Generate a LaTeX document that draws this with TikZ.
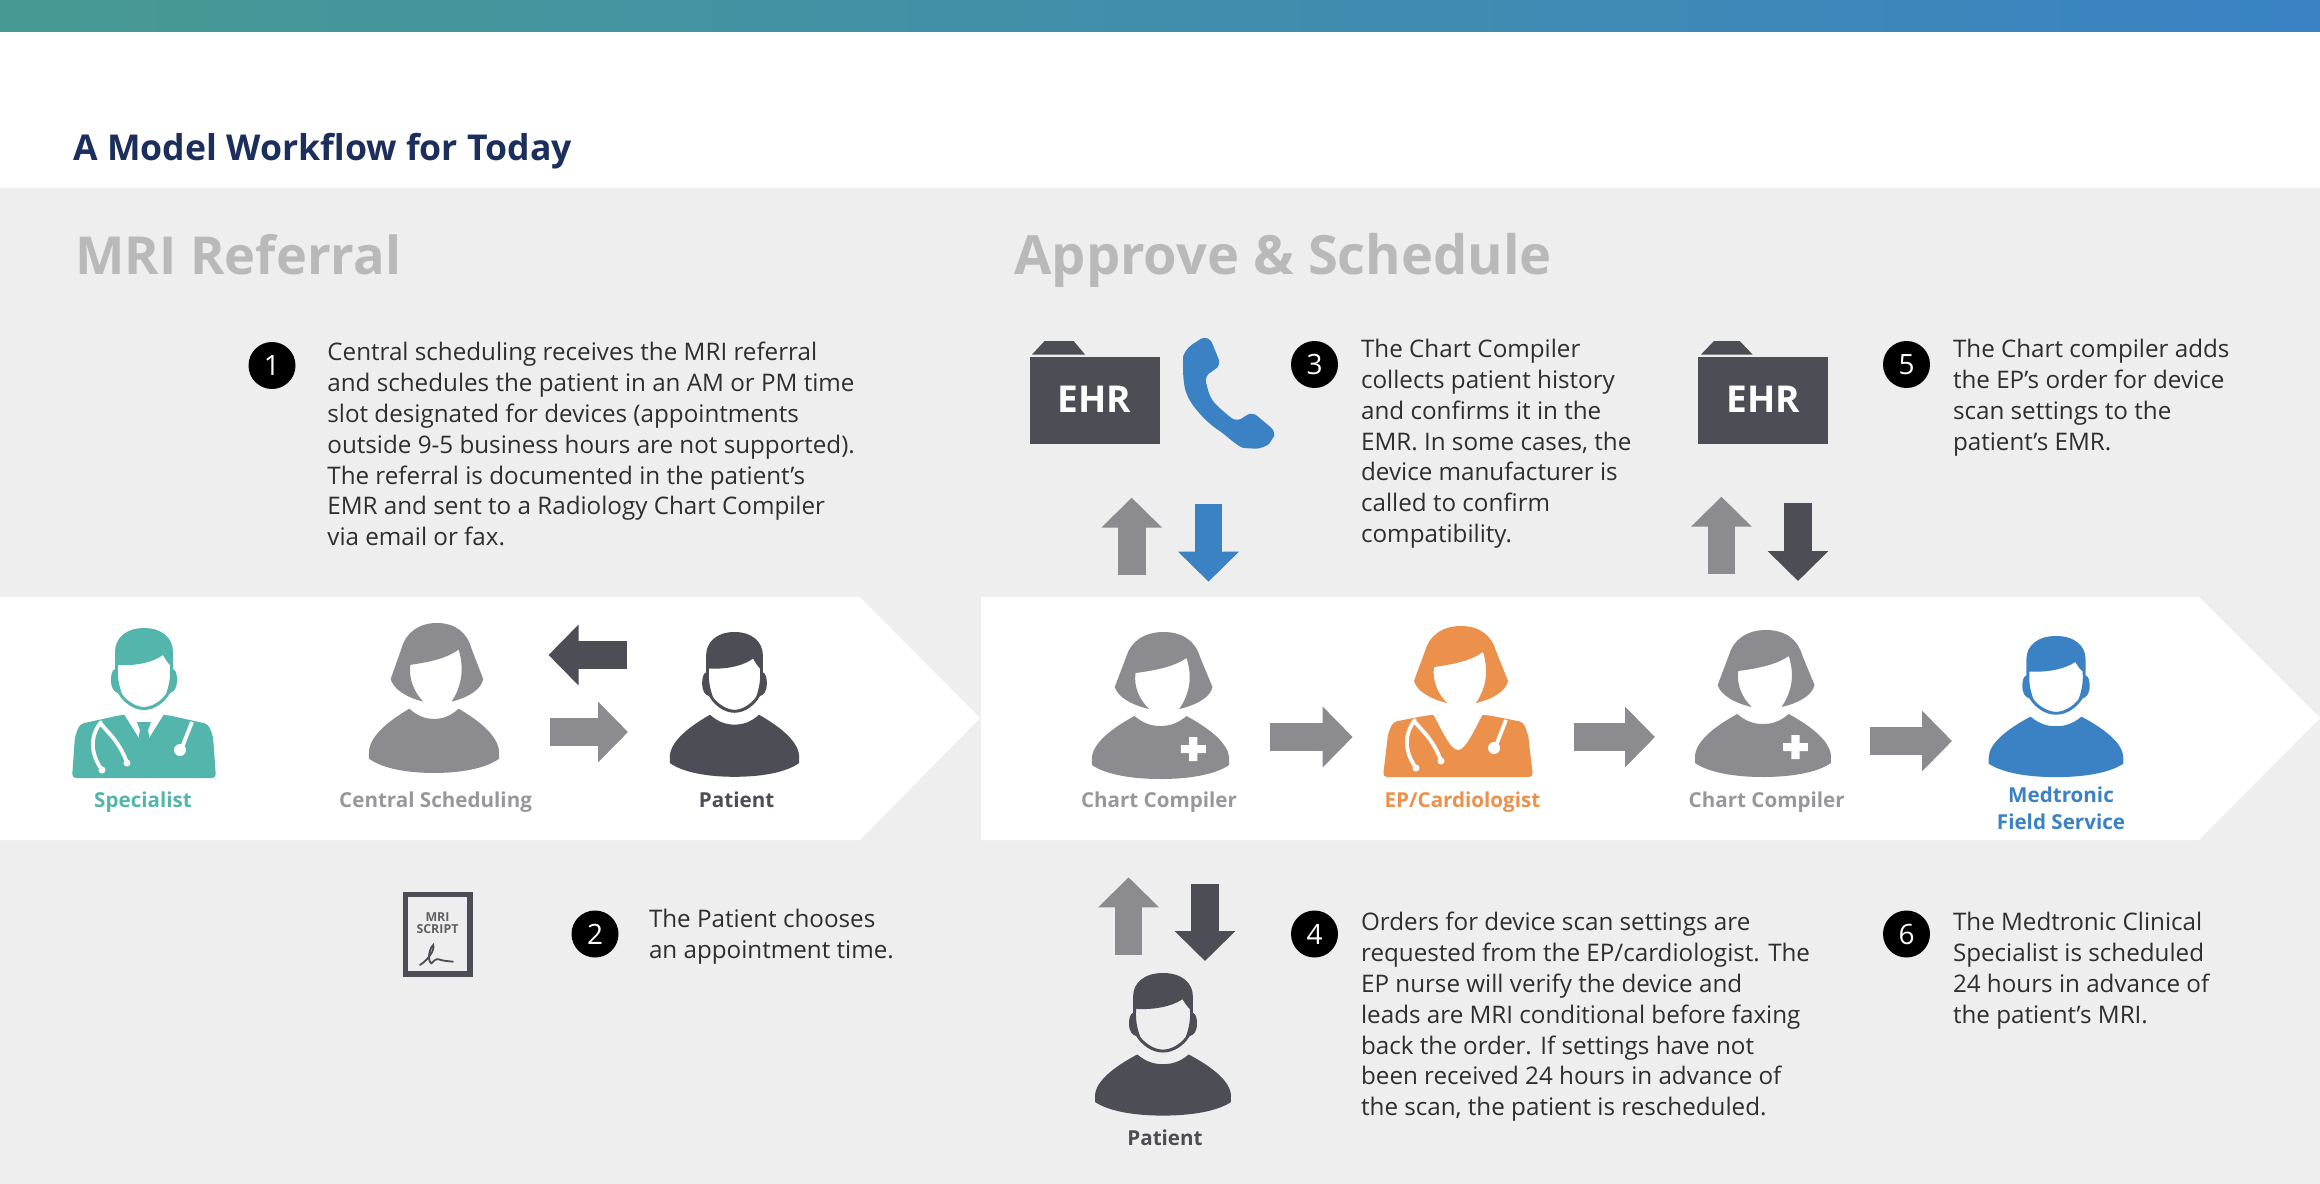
\documentclass[tikz,border=0pt]{standalone}
\usepackage{fontspec}
\setmainfont{Open Sans}
\usepackage{tikz}
\usetikzlibrary{arrows.meta}
\definecolor{cPanel}{HTML}{EEEEEE}
\definecolor{cGrey}{HTML}{8B8B90}
\definecolor{cDark}{HTML}{4C4D55}
\definecolor{cBlue}{HTML}{3A82C4}
\definecolor{cOrange}{HTML}{EC914C}
\definecolor{cTeal}{HTML}{54B5AD}
\definecolor{cNavy}{HTML}{1C2F5C}
\definecolor{cHead}{HTML}{B9B9B9}
\definecolor{cLabel}{HTML}{97989B}
\definecolor{cText}{HTML}{2E2E30}
\newcommand{\bust}[1]{\fill[#1] (-25,84) .. controls (-16,92) and (-8,94) .. (0,94) .. controls (8,94) and (16,92) .. (25,84) .. controls (48,97) and (66,112) .. (66,127) -- (66,133) .. controls (52,143) and (26,147) .. (0,147) .. controls (-26,147) and (-52,143) .. (-66,133) -- (-66,127) .. controls (-66,112) and (-48,97) .. (-25,84) -- cycle;}
\newcommand{\manhead}[1]{\fill[#1,even odd rule] (0,0) .. controls (18,0) and (29,10) .. (29,24) -- (29,41) .. controls (32,42) and (33,47) .. (33,52) .. controls (33,60) and (30,64) .. (26,65) .. controls (21,74) and (11,82) .. (0,82) .. controls (-11,82) and (-21,74) .. (-26,65) .. controls (-30,64) and (-33,60) .. (-33,52) .. controls (-33,47) and (-32,42) .. (-29,41) -- (-29,24) .. controls (-29,10) and (-18,0) .. (0,0) -- cycle (-26,37) .. controls (-10,38) and (8,35) .. (19,27) .. controls (21,31) and (24,35) .. (26,37) .. controls (27,48) and (25,58) .. (22,66) .. controls (17,73) and (8,79) .. (0,79) .. controls (-8,79) and (-17,73) .. (-22,66) .. controls (-25,58) and (-27,48) .. (-26,37) -- cycle;}
\newcommand{\womanhair}[1]{\fill[#1] (3,0) .. controls (22,0) and (34,10) .. (38,25) -- (50,55) .. controls (48,65) and (35,73) .. (18,77) .. controls (26,65) and (32,48) .. (25,26) .. controls (14,34) and (-2,38) .. (-24,41) .. controls (-26,55) and (-20,68) .. (-11,77) .. controls (-28,73) and (-41,65) .. (-44,55) -- (-33,25) .. controls (-29,10) and (-16,0) .. (3,0) -- cycle;}
\newcommand{\stetho}{\draw[white,line width=1.9pt,line cap=round] (-43,94) .. controls (-54,108) and (-54,125) .. (-42,142) (-43,96) -- (-36,104) .. controls (-28,112) and (-20,125) .. (-17,135); \fill[white] (-42,142) circle[radius=3.5] (-17,135) circle[radius=3.5] (36,122) circle[radius=6]; \draw[white,line width=1.9pt] (48,94) -- (37,122);}
\tikzset{
  pics/man/.style={code={\manhead{#1}\bust{#1}}},
  pics/woman/.style={code={\womanhair{#1}\bust{#1}}},
  pics/nurse/.style={code={\womanhair{#1}\bust{#1}\fill[white] (27.5,105) rectangle (35.5,129) (19.5,113) rectangle (43.5,121);}},
  pics/docman/.style={code={\manhead{#1}\fill[#1,rounded corners=2pt] (-23,87) -- (-64,96) -- (-69,108) -- (-72,150) -- (72,150) -- (69,108) -- (64,96) -- (23,87) -- cycle;\fill[white] (-20,86) -- (0,118) -- (20,86) -- cycle;\fill[#1] (-7,94) -- (7,94) -- (4,102) -- (7,118) -- (0,124) -- (-7,118) -- (-4,102) -- cycle;\stetho}},
  pics/docwoman/.style={code={\womanhair{#1}\fill[#1,rounded corners=2pt] (-29,89) -- (-65,96) -- (-70,108) -- (-75,151) -- (75,151) -- (70,108) -- (65,96) -- (29,89) -- cycle;\fill[white] (-26,86) .. controls (-18,100) and (-8,124) .. (0,124) .. controls (8,124) and (18,100) .. (26,86) -- cycle;\stetho}},
  flow/.style={line width=13.8pt,-{Triangle[length=15pt,width=29.5pt]}},
  para/.style={anchor=north west,inner sep=0pt,align=left,text=cText,font=\fontsize{12.1}{15.4}\selectfont},
  badge/.style={circle,fill=black,text=white,inner sep=0pt,minimum size=23.5pt,font=\fontsize{14}{14}\selectfont},
  iconlabel/.style={anchor=base,inner sep=0pt,align=center,font=\bfseries\fontsize{10.3}{13.5}\selectfont},
  sect/.style={anchor=base west,inner sep=0pt,text=cHead,font=\bfseries\fontsize{#1}{30}\selectfont},
  ehrtext/.style={text=white,inner sep=0pt,font=\bfseries\fontsize{18.5}{18}\selectfont}
}
\begin{document}
\begin{tikzpicture}[x=0.5pt,y=-0.5pt]
\useasboundingbox (0,0) rectangle (2320,1184);
\fill[white] (0,0) rectangle (2320,1184);
\shade[left color=cTeal!85!black,right color=cBlue] (0,0) rectangle (2320,31);
\fill[cPanel] (0,188) rectangle (2320,1184);
\fill[white] (0,597) -- (860,597) -- (980,718) -- (860,840) -- (0,840) -- cycle;
\fill[white] (981,597) -- (2199,597) -- (2320,718) -- (2199,840) -- (981,840) -- cycle;
\node[anchor=base west,inner sep=0pt,text=cNavy,font=\bfseries\fontsize{17.8}{20}\selectfont] (title) at (73,160) {A Model Workflow for Today};
\node[sect=26.2] (hReferral) at (75,274) {MRI Referral};
\node[sect=27.1] (hApprove) at (1014,274) {Approve \& Schedule};
\pic at (144,628) {docman=cTeal};
\pic[xscale=.985,yscale=1.02] at (434,623) {woman=cGrey};
\pic[xscale=.98,yscale=.985] at (734.5,632) {man=cDark};
\pic[xscale=1.04] at (1160.5,632) {nurse=cGrey};
\pic at (1458,626) {docwoman=cOrange};
\pic[xscale=1.03] at (1763,630) {nurse=cGrey};
\pic[xscale=1.02,yscale=.96] at (2056,636) {man=cBlue};
\pic[xscale=1.03,yscale=.97] at (1163,973) {man=cDark};
\node[iconlabel,text=cTeal] (lSpecialist) at (143,807) {Specialist};
\node[iconlabel,text=cLabel] (lCentral) at (435.6,807) {Central Scheduling};
\node[iconlabel,text=cDark] (lPatientA) at (736.6,807) {Patient};
\node[iconlabel,text=cLabel] (lChartA) at (1159,807) {Chart Compiler};
\node[iconlabel,text=cOrange] (lEP) at (1462.5,807) {EP/Cardiologist};
\node[iconlabel,text=cLabel] (lChartB) at (1766.7,807) {Chart Compiler};
\node[iconlabel,text=cBlue,anchor=center] (lMedtronic) at (2061,808) {Medtronic\\Field Service};
\node[iconlabel,text=cDark] (lPatientB) at (1165,1145) {Patient};
\coordinate (aPatS) at (627,655);
\coordinate (aPatE) at (548.5,655);
\coordinate (aSchS) at (550,732);
\coordinate (aSchE) at (628,732);
\coordinate (aOneS) at (1270,737);
\coordinate (aOneE) at (1352.7,737);
\coordinate (aTwoS) at (1573.7,737);
\coordinate (aTwoE) at (1655,737);
\coordinate (aThrS) at (1870,741);
\coordinate (aThrE) at (1952,741);
\coordinate (uA) at (1131.7,575);
\coordinate (uB) at (1131.7,497.7);
\coordinate (dA) at (1208.5,504);
\coordinate (dB) at (1208.5,581.7);
\coordinate (uC) at (1721.4,574);
\coordinate (uD) at (1721.4,496.7);
\coordinate (dC) at (1798,503);
\coordinate (dD) at (1798,581);
\coordinate (uE) at (1128.6,955);
\coordinate (uF) at (1128.6,877.3);
\coordinate (dE) at (1205,884);
\coordinate (dF) at (1205,961);
\draw[flow,cDark] (aPatS) -- (aPatE);
\draw[flow,cGrey] (aSchS) -- (aSchE);
\draw[flow,cGrey] (aOneS) -- (aOneE);
\draw[flow,cGrey] (aTwoS) -- (aTwoE);
\draw[flow,cGrey] (aThrS) -- (aThrE);
\draw[flow,cGrey] (uA) -- (uB);
\draw[flow,cBlue] (dA) -- (dB);
\draw[flow,cGrey] (uC) -- (uD);
\draw[flow,cDark] (dC) -- (dD);
\draw[flow,cGrey] (uE) -- (uF);
\draw[flow,cDark] (dE) -- (dF);
\fill[cDark] (1030,357) rectangle (1160,444);
\fill[cDark] (1032,354.5) -- (1044.6,341) -- (1073.6,341) -- (1085,354.5) -- cycle;
\node[ehrtext] (ehrA) at (1094.6,399) {EHR};
\fill[cDark] (1698,357) rectangle (1828,444);
\fill[cDark] (1701,354.5) -- (1714,341) -- (1739.7,341) -- (1752.6,354.5) -- cycle;
\node[ehrtext] (ehrB) at (1763,399) {EHR};
\fill[cBlue,rounded corners=3pt] (1209.8,337.3) .. controls (1203,338) and (1199,340) .. (1196.4,341.7) .. controls (1187,348) and (1183,355) .. (1183,363.3) .. controls (1183,375) and (1184,386) .. (1187.5,396.7) .. controls (1197,412) and (1209,424) .. (1223.2,433.3) .. controls (1232,441) and (1241,448) .. (1250,448.3) .. controls (1260,449) and (1268,445) .. (1272.3,440) -- (1275.9,431.7) -- (1252.2,411.7) -- (1236.6,421.7) .. controls (1226,414) and (1216,405) .. (1209.8,396.7) -- (1204.5,376.7) -- (1221,365) -- cycle;
\draw[cDark,line width=2.6pt] (405.5,894.5) rectangle (470,974);
\node[inner sep=0pt,align=center,text=cGrey!70!black,font=\bfseries\fontsize{6.2}{6.2}\selectfont] (scriptText) at (437.5,923) {MRI\\SCRIPT};
\draw[cDark,line width=.9pt,line cap=round] (420,965) .. controls (428,960) and (435,950) .. (433.2,945) .. controls (428,950) and (428,962) .. (431.4,963.3) .. controls (433,962) and (436,958) .. (438.6,959.3) .. controls (443,961) and (448,961) .. (452.9,961.7);
\node[badge] (stepA) at (272,365.5) {1};
\node[badge] (stepB) at (595,934) {2};
\node[badge] (stepC) at (1314.5,364.5) {3};
\node[badge] (stepD) at (1314.5,934) {4};
\node[badge] (stepE) at (1906.5,364.5) {5};
\node[badge] (stepF) at (1906.5,934) {6};
\node[para] (txtA) at (327,342) {Central scheduling receives the MRI referral\\and schedules the patient in an AM or PM time\\slot designated for devices (appointments\\outside 9-5 business hours are not supported).\\The referral is documented in the patient’s\\EMR and sent to a Radiology Chart Compiler\\via email or fax.};
\node[para] (txtB) at (648.6,909) {The Patient chooses\\an appointment time.};
\node[para] (txtC) at (1360.7,339) {The Chart Compiler\\collects patient history\\and confirms it in the\\EMR. In some cases, the\\device manufacturer is\\called to confirm\\compatibility.};
\node[para] (txtD) at (1360.7,912) {Orders for device scan settings are\\requested from the EP/cardiologist. The\\EP nurse will verify the device and\\leads are MRI conditional before faxing\\back the order. If settings have not\\been received 24 hours in advance of\\the scan, the patient is rescheduled.};
\node[para] (txtE) at (1952.6,339) {The Chart compiler adds\\the EP’s order for device\\scan settings to the\\patient’s EMR.};
\node[para] (txtF) at (1952.6,912) {The Medtronic Clinical\\Specialist is scheduled\\24 hours in advance of\\the patient’s MRI.};
\end{tikzpicture}
\end{document}
